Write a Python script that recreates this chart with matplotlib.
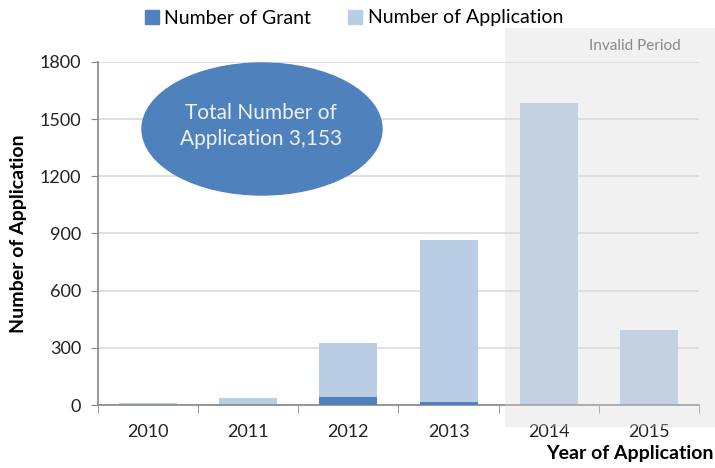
import matplotlib
matplotlib.use("Agg")
import matplotlib.pyplot as plt
from matplotlib.patches import Ellipse, Rectangle, Patch

years = ["2010", "2011", "2012", "2013", "2014", "2015"]
applications = [10, 35, 327, 866, 1585, 393]
grants = [0, 0, 42, 17, 0, 0]
yticks = [0, 300, 600, 900, 1200, 1500, 1800]

plt.rcParams['font.family'] = ['Lato', 'DejaVu Sans']

fig = plt.figure(figsize=(7.15, 4.68), dpi=100)
ax = fig.add_axes([98/715, 1-405/468, (699-98)/715, (405-61.8)/468])

x = list(range(len(years)))
ax.bar(x, applications, width=0.58, color="#b9cde5", zorder=2)
ax.bar(x, grants, width=0.58, color="#4f81bd", zorder=3)

ax.set_xlim(-0.5, len(years)-0.5)
ax.set_ylim(0, 1800)
ax.set_yticks(yticks)
ax.set_yticklabels([str(v) for v in yticks], fontsize=13, color="#222222")
ax.set_xticks(x)
ax.set_xticklabels(years, fontsize=13, color="#222222")
ax.tick_params(axis='x', length=0, pad=14)
ax.set_xticks([i-0.5 for i in range(len(years)+1)], minor=True)
ax.tick_params(axis='x', which='minor', length=6, color="#868686", direction='out')
ax.tick_params(axis='y', length=5, color="#868686", direction='out', pad=7)
ax.grid(axis='y', color="#d9d9d9", linewidth=1.2, zorder=0)
ax.set_axisbelow(True)
for s in ['top', 'right']:
    ax.spines[s].set_visible(False)
for s in ['left', 'bottom']:
    ax.spines[s].set_color("#868686")
    ax.spines[s].set_linewidth(1.2)

fig.text(19/715, 1-234/468, "Number of Application", fontsize=14, fontweight='bold',
         rotation=90, ha='center', va='center')
fig.text(714/715, 1-453/468, "Year of Application", fontsize=14, fontweight='bold',
         ha='right', va='center')

# Ellipse annotation
ell = Ellipse((262/715, 1-129/468), 240/715, 132/468, transform=fig.transFigure,
              color="#4f81bd", zorder=5)
fig.patches.append(ell)
fig.text(261/715, 1-126/468, "Total Number of\nApplication 3,153", fontsize=15,
         color="#eef2f8", ha='center', va='center', zorder=6, linespacing=1.35)

# Invalid period shading
shade = Rectangle((505/715, 1-427/468), 210/715, (427-28)/468, transform=fig.transFigure,
                  facecolor="#dadada", alpha=0.357, edgecolor='none', zorder=4)
fig.patches.append(shade)
fig.text(635/715, 1-46/468, "Invalid Period", fontsize=11, color="#8a8a8a",
         ha='center', va='center', zorder=6)

handles = [Patch(color="#4f81bd", label="Number of Grant"),
           Patch(color="#b9cde5", label="Number of Application")]
fig.legend(handles=handles, loc='center', bbox_to_anchor=(354/715, 1-18/468), ncol=2,
           frameon=False, fontsize=14, handlelength=0.7, handleheight=0.7,
           handletextpad=0.3, columnspacing=1.9, borderpad=0)

fig.savefig("out.png", dpi=100)
